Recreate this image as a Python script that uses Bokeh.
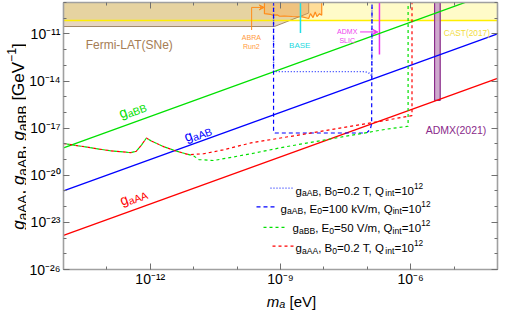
import math
import numpy as np
from bokeh.plotting import figure
from bokeh.layouts import row, column
from bokeh.models import (Label, FixedTicker, LogAxis, CustomJSTickFormatter, Arrow,
                          VeeHead, Range1d)
from bokeh.embed import file_html
from bokeh.resources import INLINE

FONT = "Liberation Sans"

# ---------------- data ----------------
x_lo, x_hi = 1e-14, 1e-4
y_lo, y_hi = 1e-26, 1e-9
x_major_ticks = [1e-12, 1e-9, 1e-6]
y_major_ticks = [1e-26, 1e-23, 1e-20, 1e-17, 1e-14, 1e-11]
tick_labels = {"-26": "10\u207b\u00b2\u2076", "-23": "10\u207b\u00b2\u00b3",
               "-20": "10\u207b\u00b2\u2070", "-17": "10\u207b\u00b9\u2077",
               "-14": "10\u207b\u00b9\u2074", "-11": "10\u207b\u00b9\u00b9",
               "-12": "10\u207b\u00b9\u00b2", "-9": "10\u207b\u2079",
               "-6": "10\u207b\u2076"}
x_minor_exps = list(range(-14, -3))
y_minor_exps = list(range(-26, -8))

# coupling lines: log10 m and log10 g at both ends
line_m_log = [-14.0, -4.0]
gBB_log = [-18.25, -8.25]
gAB_log = [-21.0, -11.0]
gAA_log = [-23.83, -13.83]

# sensitivity curves (log10 m, log10 g)
common_m = [-14.0, -13.5, -12.93, -12.45, -12.32, -12.2, -12.09, -11.98, -11.68, -11.43]
common_g = [-17.98, -18.19, -18.44, -18.56, -18.47, -18.06, -17.63, -17.81, -18.19, -18.44]
aAA_B_m = common_m + [-11.11, -10.77, -10.32, -9.68, -8.5, -6.57, -5.97, -5.97]
aAA_B_g = common_g + [-18.69, -18.63, -18.38, -17.94, -17.4, -16.5, -16.2, -8.0]
aBB_E_m = common_m + [-11.13, -11.0, -10.88, -10.54, -9.68, -8.95, -6.55, -6.06, -6.06]
aBB_E_g = common_g + [-18.67, -18.77, -19.0, -19.06, -18.63, -18.22, -17.06, -16.88, -8.0]
aAB_E_m = [-9.16, -9.16, -9.13, -7.1, -7.0, -6.93, -6.9, -6.89]
aAB_E_g = [-8.0, -17.27, -17.31, -17.31, -17.26, -17.08, -16.7, -8.0]
aAB_B_m = [-9.16, -9.16, -7.1, -6.98, -6.92, -6.895, -6.89]
aAB_B_g = [-8.0, -13.4, -13.4, -13.45, -13.58, -13.77, -8.0]

# excluded regions (log10 m, log10 g)
cast_m = [-14.0, -4.0, -4.0, -14.0]
cast_g = [-10.15, -10.15, -8.5, -8.5]
fermi_m = [-14.0, -9.14, -8.35, -8.35, -14.0]
fermi_g = [-10.53, -10.53, -9.67, -8.5, -8.5]
abra_m = [-9.37, -9.37, -9.23, -9.18, -9.07, -9.02, -8.91, -8.73, -8.5, -8.35,
          -8.31, -8.25, -8.2, -8.16, -8.1, -8.05, -8.05]
abra_g = [-8.5, -9.71, -9.75, -9.81, -9.79, -9.875, -9.86, -9.89, -9.92, -10.02,
          -9.71, -9.96, -9.61, -9.9, -9.71, -9.81, -8.5]
base_m = [-8.54, -8.54]
base_g = [-10.94, -8.5]
slic_m = [-6.72, -6.72]
slic_g = [-12.31, -8.5]
admx_m = [-5.45, -5.32, -5.32, -5.45]
admx_g = [-15.23, -15.23, -8.5, -8.5]

L = lambda a: list(10.0 ** np.array(a, dtype=float))

# ---------------- geometry (page pixels) ----------------
YT_W = 26          # strip holding the y title
MAIN_W, MAIN_H = 499 - YT_W, 289
XT_H = 22          # strip holding the x title
FR_L, FR_R, FR_T, FR_B = 63.0, 497.0, 2.0, 271.0

def px2m(px):      # page x -> data (own frame)
    return 10.0 ** (-14.0 + (px - FR_L) * 10.0 / (FR_R - FR_L))

def py2g(py):      # page y -> data (own frame)
    return 10.0 ** (-9.0 - (py - FR_T) * 17.0 / (FR_B - FR_T))

def rx2m(px):      # reference picture x -> data
    return 10.0 ** (-14.0 + (px - 63.0) / 43.9)

def ry2g(py):      # reference picture y -> data
    return 10.0 ** (-9.0 - (py - 2.0) / 16.0)

# ---------------- main figure ----------------
p = figure(width=MAIN_W, height=MAIN_H, x_axis_type="log", y_axis_type="log",
           x_range=Range1d(x_lo, x_hi), y_range=Range1d(y_lo, y_hi), title=None,
           output_backend="svg", toolbar_location=None,
           min_border_left=int(FR_L - YT_W), min_border_right=2, min_border_top=2,
           min_border_bottom=int(MAIN_H - FR_B))
p.outline_line_color = None
p.grid.visible = False

fmt = CustomJSTickFormatter(args=dict(labels=tick_labels),
                            code="const e = Math.round(Math.log10(tick)); return labels[String(e)] || '';")
blank = CustomJSTickFormatter(code="return '';")
xt = FixedTicker(ticks=x_major_ticks, minor_ticks=[10.0 ** e for e in x_minor_exps])
yt = FixedTicker(ticks=y_major_ticks, minor_ticks=[10.0 ** e for e in y_minor_exps])

def style_axis(ax, labelled):
    ax.axis_line_color = "#a0a0a0"
    ax.axis_line_width = 1.6
    ax.major_tick_line_color = "#707070"
    ax.minor_tick_line_color = "#707070"
    ax.major_tick_in = 6
    ax.major_tick_out = 0
    ax.minor_tick_in = 3
    ax.minor_tick_out = 0
    ax.axis_label = None
    if labelled:
        ax.formatter = fmt
        ax.major_label_text_font = FONT
        ax.major_label_text_font_size = "14px"
        ax.major_label_text_color = "#000000"
        ax.major_label_standoff = 1
    else:
        ax.formatter = blank
        ax.major_label_standoff = 0
        ax.major_label_text_font_size = "1px"

p.xaxis[0].ticker = xt
p.yaxis[0].ticker = yt
style_axis(p.xaxis[0], True)
style_axis(p.yaxis[0], True)
p.yaxis[0].major_label_standoff = 3
ax_top = LogAxis(ticker=xt)
ax_right = LogAxis(ticker=yt)
style_axis(ax_top, False)
style_axis(ax_right, False)
p.add_layout(ax_top, "above")
p.add_layout(ax_right, "right")

# regions
p.patch(L(cast_m), L(cast_g), fill_color="#fffbc8", line_color=None)
p.patch(L(fermi_m), L(fermi_g), fill_color="#c49a6c", fill_alpha=0.42,
        line_color="#a08868", line_width=1)
p.line(L(line_m_log), L([cast_g[0], cast_g[1]]), line_color="#ffee00", line_width=1.6)
p.patch(L(abra_m), L(abra_g), fill_color="#ffa640", fill_alpha=0.35,
        line_color="#ff8c1a", line_width=1.2)
p.line(L(base_m), L(base_g), line_color="#22dde6", line_width=1.5)
p.line(L(slic_m), L(slic_g), line_color="#ee33ee", line_width=1.5)
p.patch(L(admx_m), L(admx_g), fill_color="#c9a0c8", fill_alpha=0.9,
        line_color="#8a2a8a", line_width=1.2)

# coupling lines
p.line(L(line_m_log), L(gBB_log), line_color="#00e000", line_width=1.3)
p.line(L(line_m_log), L(gAB_log), line_color="#0000ff", line_width=1.3)
p.line(L(line_m_log), L(gAA_log), line_color="#ff0000", line_width=1.3)

# sensitivity curves
STY = {
    "dot": dict(line_color="#2030ff", line_width=1.4, line_dash="1 2"),
    "blue": dict(line_color="#0000ff", line_width=1.2, line_dash="4 3"),
    "red": dict(line_color="#ff0000", line_width=1.2, line_dash="3 3"),
    "green": dict(line_color="#00e000", line_width=1.2, line_dash="3 3", line_dash_offset=3),
}
p.line(L(aAB_B_m), L(aAB_B_g), **STY["dot"])
p.line(L(aAB_E_m), L(aAB_E_g), **STY["blue"])
p.line(L(aAA_B_m), L(aAA_B_g), **STY["red"])
p.line(L(aBB_E_m), L(aBB_E_g), **STY["green"])

# ---------------- text helpers ----------------
W = {" ": 278, "(": 333, ")": 333, ",": 278, "-": 333, ".": 278, "/": 278, "=": 584,
     "[": 278, "]": 278, "\u2212": 584,
     "A": 667, "B": 667, "C": 722, "D": 722, "E": 667, "F": 611, "G": 778, "I": 278,
     "L": 556, "M": 833, "N": 722, "Q": 778, "R": 722, "S": 667, "T": 611, "V": 667,
     "X": 667, "a": 556, "e": 556, "g": 556, "i": 222, "k": 500, "m": 833, "n": 556,
     "r": 333, "t": 278, "u": 556, "v": 500}

def tw(s, size):
    return sum(W.get(ch, 556) for ch in s) * size / 1000.0

def rich(fig, x, y, segs, size, color, angle=0.0, align="left", r_sub=0.72, r_sup=0.72,
         sub_dy=0.22, sup_dy=0.42):
    items = []
    d = 0.0
    for seg in segs:
        text, kind = seg[0], seg[1]
        ital = seg[2] if len(seg) > 2 else False
        if kind == "n":
            fs, dy = size, 0.0
        elif kind == "sub":
            fs, dy = size * r_sub, -sub_dy * size
        else:
            fs, dy = size * r_sup, sup_dy * size
        st = text.lstrip(" ")
        lead = tw(text[:len(text) - len(st)], fs)
        items.append((st.rstrip(" "), d + lead, dy, fs, ital))
        d += tw(text, fs)
    start = {"left": 0.0, "center": -d / 2.0, "right": -d}[align]
    c, s = math.cos(angle), math.sin(angle)
    for body, off, dy, fs, ital in items:
        if not body:
            continue
        dd = off + start
        fig.add_layout(Label(x=x, y=y, x_offset=dd * c - dy * s, y_offset=dd * s + dy * c,
                             text=body, angle=angle, text_font=FONT,
                             text_font_size=f"{fs:.2f}px", text_color=color,
                             text_font_style="italic" if ital else "normal",
                             text_align="left", text_baseline="alphabetic"))

# line labels (rotated along the lines)
ang = math.atan((FR_B - FR_T) / 17.0 / ((FR_R - FR_L) / 10.0))
rich(p, rx2m(132.5), ry2g(110.5), [("g", "n"), ("aBB", "sub")], 14, "#00e000", angle=ang,
     align="center", r_sub=0.75)
rich(p, rx2m(198.5), ry2g(134.5), [("g", "n"), ("aAB", "sub")], 14, "#0000ff", angle=ang,
     align="center", r_sub=0.75)
rich(p, rx2m(133.5), ry2g(199.5), [("g", "n"), ("aAA", "sub")], 14, "#ff0000", angle=ang,
     align="center", r_sub=0.75)

# region labels
def plain(px, py, text, size, color):
    p.add_layout(Label(x=rx2m(px), y=ry2g(py), text=text, text_font=FONT,
                       text_font_size=f"{size}px", text_color=color, text_align="center",
                       text_baseline="alphabetic"))

plain(129.5, 45, "Fermi-LAT(SNe)", 12, "#a57d55")
plain(253, 37.5, "ABRA", 7, "#ff9a3c")
plain(253, 46.5, "Run2", 7, "#ff9a3c")
plain(302, 45.5, "BASE", 8, "#22d8e0")
plain(350, 32, "ADMX", 7, "#ee44ee")
plain(350, 40.5, "SLIC", 7, "#ee44ee")
plain(471, 33, "CAST(2017)", 8.3, "#f2dc3c")
plain(460, 131.5, "ADMX(2021)", 10.5, "#8a2a8a")

# arrows
p.add_layout(Arrow(x_start=rx2m(253.3), y_start=ry2g(30), x_end=rx2m(253.3),
                   y_end=ry2g(7), end=None, line_color="#ff8c1a", line_width=1))
p.add_layout(Arrow(x_start=rx2m(253.3), y_start=ry2g(7), x_end=rx2m(266),
                   y_end=ry2g(7), end=VeeHead(size=5, line_color="#ff8c1a",
                   fill_color="#ff8c1a"), line_color="#ff8c1a", line_width=1))
p.add_layout(Arrow(x_start=rx2m(363), y_start=ry2g(32), x_end=rx2m(381),
                   y_end=ry2g(32), end=VeeHead(size=5, line_color="#ee33ee",
                   fill_color="#ee33ee"), line_color="#ee33ee", line_width=1))

# legend: sample line + rich label per row (page positions)
legend_rows = [
    ("dot", 270, 293, 189, 295, 191.5,
     [("g", "n"), ("aAB", "sub"), (", B", "n"), ("0", "sub"), ("=0.2 T, Q", "n"),
      ("int", "sub"), ("=10", "n"), ("12", "sup")]),
    ("blue", 256, 277, 208, 280, 210,
     [("g", "n"), ("aAB", "sub"), (", E", "n"), ("0", "sub"), ("=100 kV/m, Q", "n"),
      ("int", "sub"), ("=10", "n"), ("12", "sup")]),
    ("green", 263, 285, 228.5, 292, 229.5,
     [("g", "n"), ("aBB", "sub"), (", E", "n"), ("0", "sub"), ("=50 V/m, Q", "n"),
      ("int", "sub"), ("=10", "n"), ("12", "sup")]),
    ("red", 272, 293, 247.5, 295, 249.5,
     [("g", "n"), ("aAA", "sub"), (", B", "n"), ("0", "sub"), ("=0.2 T, Q", "n"),
      ("int", "sub"), ("=10", "n"), ("12", "sup")]),
]
for key, x0, x1, ly, tx, ty, segs in legend_rows:
    sty = dict(STY[key])
    sty.pop("line_dash_offset", None)
    p.line([px2m(x0), px2m(x1)], [py2g(ly), py2g(ly)], **sty)
    rich(p, px2m(tx), py2g(ty), segs, 11.5, "#000000", r_sub=0.75, r_sup=0.72)

# ---------------- title strips ----------------
def strip(w, h):
    f = figure(width=w, height=h, x_range=Range1d(0, w), y_range=Range1d(0, h),
               title=None, x_axis_location=None, y_axis_location=None,
               toolbar_location=None, output_backend="svg", min_border=0)
    f.outline_line_color = None
    f.grid.visible = False
    return f

yfig = strip(YT_W, MAIN_H)
rich(yfig, 18, MAIN_H - 145,
     [("g", "n", True), ("aAA", "sub"), (", ", "n"), ("g", "n", True), ("aAB", "sub"),
      (", ", "n"), ("g", "n", True), ("aBB", "sub"), (" [GeV", "n"), ("\u22121", "sup"),
      ("]", "n")], 17, "#000000", angle=math.pi / 2, align="center", r_sub=0.8, r_sup=0.72)

xfig = strip(499, XT_H)
rich(xfig, 291, 10.1,
     [("m", "n", True), ("a", "sub", True), (" [eV]", "n")], 15, "#000000",
     align="center", r_sub=0.72, sub_dy=0.15)

layout = column(row(yfig, p), xfig)
open("out.html", "w").write(file_html(layout, INLINE))
